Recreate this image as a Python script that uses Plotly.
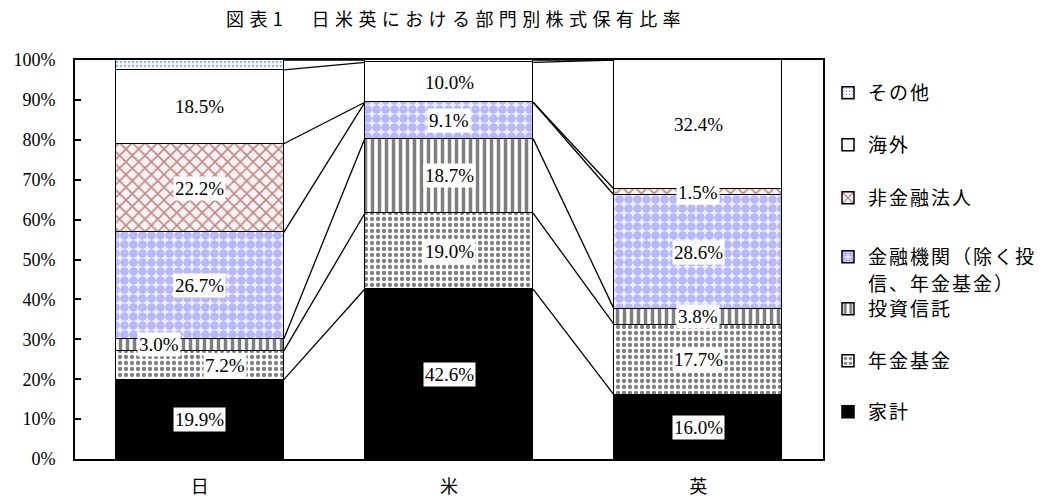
import plotly.graph_objects as go

# Countries on the category axis
countries = ["日", "米", "英"]

# Ownership share by sector (%), bottom of the stack first
household = [19.9, 42.6, 16.0]
pension_funds = [7.2, 19.0, 17.7]
investment_trusts = [3.0, 18.7, 3.8]
financial_institutions = [26.7, 9.1, 28.6]
nonfinancial_corps = [22.2, 0.0, 1.5]
foreign_investors = [18.5, 10.0, 32.4]
others = [2.5, 0.6, 0.0]

# Legend rows; the long financial-institution label wraps onto a second line
sector_labels = [
    "家計",
    "年金基金",
    "投資信託",
    "金融機関（除く投",
    "非金融法人",
    "海外",
    "その他",
]
wrapped_tail = "信、年金基金）"

y_ticks = list(range(0, 101, 10))
y_tick_text = [f"{v}%" for v in y_ticks]

series = [household, pension_funds, investment_trusts, financial_institutions,
          nonfinancial_corps, foreign_investors, others]

BAR_W = 0.675
SERIF = "Liberation Serif, Times New Roman, serif"
GOTHIC = "Noto Sans CJK JP, sans-serif"
LEGEND_SIZE = 19
W, H = 1053, 498
M_L, M_R, M_T, M_B = 75, 230, 60, 39
PLOT_W = W - M_L - M_R
PLOT_H = H - M_T - M_B


def spaced(text, px):
    return f'<span style="letter-spacing:{px}px">{text}</span>'


patterns = [
    dict(color="#000000", pattern=None),
    dict(color="#ffffff", pattern=dict(shape=".", fgcolor="#000000", bgcolor="#ffffff",
                                        size=6, solidity=0.4, fillmode="overlay")),
    dict(color="#ffffff", pattern=dict(shape="|", fgcolor="#000000", bgcolor="#ffffff",
                                        size=7, solidity=0.5, fillmode="overlay")),
    dict(color="#f0f0ff", pattern=dict(shape=".", fgcolor="#8080ee", bgcolor="#f0f0ff",
                                        size=9, solidity=0.72, fillmode="overlay")),
    dict(color="#f8f2f2", pattern=dict(shape="x", fgcolor="#8b1a1a", bgcolor="#f8f2f2",
                                        size=9, solidity=0.33, fillmode="overlay")),
    dict(color="#ffffff", pattern=None),
    dict(color="#ffffff", pattern=dict(shape=".", fgcolor="#2f6fdc", bgcolor="#ffffff",
                                        size=4, solidity=0.35, fillmode="overlay")),
]

x_pos = list(range(len(countries)))

fig = go.Figure()

legend_ids = ["legend"] + [f"legend{k}" for k in range(2, len(series) + 1)]

for k, (vals, label, sty) in enumerate(zip(series, sector_labels, patterns)):
    marker = dict(color=sty["color"], line=dict(color="#000000", width=1.5))
    if sty["pattern"] is not None:
        marker["pattern"] = sty["pattern"]
    fig.add_trace(go.Bar(
        x=x_pos, y=vals, width=BAR_W, name=spaced(label, 2), marker=marker,
        legend=legend_ids[k], hoverinfo="skip",
    ))

# Series lines joining the stack boundaries of neighbouring bars
cum = []
running = [0.0] * len(countries)
for vals in series:
    running = [r + v for r, v in zip(running, vals)]
    cum.append(list(running))

lx, ly = [], []
for tops in cum:
    for i in range(len(countries) - 1):
        lx += [x_pos[i] + BAR_W / 2, x_pos[i + 1] - BAR_W / 2, None]
        ly += [tops[i], tops[i + 1], None]
fig.add_trace(go.Scatter(x=lx, y=ly, mode="lines", line=dict(color="#000000", width=1.3),
                         showlegend=False, hoverinfo="skip", cliponaxis=False))

# Value labels (the small "その他" slices stay unlabelled)
label_shift = {(2, 0): -41, (1, 0): 25}
annotations = []
base = [0.0] * len(countries)
for k, vals in enumerate(series):
    for i, v in enumerate(vals):
        if k < len(series) - 1 and v > 0:
            annotations.append(dict(
                x=x_pos[i], y=base[i] + v / 2, xref="x", yref="y",
                text=f"{v:.1f}%", showarrow=False,
                xshift=label_shift.get((k, i), 0),
                font=dict(family=SERIF, size=19, color="#000000"),
                bgcolor="#ffffff", borderpad=1,
            ))
    base = [b + v for b, v in zip(base, vals)]

# Second line of the wrapped legend label
annotations.append(dict(
    x=(868 - M_L) / PLOT_W, y=(H - M_B - 282) / PLOT_H, xref="paper", yref="paper",
    text=spaced(wrapped_tail, 2), showarrow=False, xanchor="left", yanchor="middle",
    borderpad=0, borderwidth=0,
    font=dict(family=GOTHIC, size=LEGEND_SIZE, color="#000000"),
))

# One legend per sector so each row sits at its own height
legend_rows_px = [412, 361, 309, 257, 198, 145, 93]
layout_legends = {}
for lid, ypx in zip(legend_ids, legend_rows_px):
    layout_legends[lid] = dict(
        x=828 / W, xanchor="left", xref="container",
        y=1 - ypx / H, yanchor="middle", yref="container",
        bgcolor="rgba(0,0,0,0)", borderwidth=0,
        font=dict(family=GOTHIC, size=LEGEND_SIZE, color="#000000"),
        itemwidth=30,
    )

fig.update_layout(
    width=W, height=H,
    margin=dict(l=M_L, r=M_R, t=M_T, b=M_B, autoexpand=False),
    paper_bgcolor="#ffffff", plot_bgcolor="#ffffff",
    barmode="stack", bargap=0,
    showlegend=True,
    title=dict(
        text=spaced("図表1　日米英における部門別株式保有比率", 5.4),
        x=456 / W, xanchor="center", xref="container",
        y=1 - 20 / H, yanchor="middle", yref="container",
        font=dict(family=GOTHIC, size=18, color="#000000"),
    ),
    xaxis=dict(
        range=[-0.5, 2.5], tickvals=x_pos, ticktext=countries,
        showline=True, linecolor="#000000", linewidth=2, mirror=True,
        ticks="", showgrid=False, zeroline=False, automargin=False,
        tickfont=dict(family=GOTHIC, size=18, color="#000000"),
        ticklabelstandoff=10,
    ),
    yaxis=dict(
        range=[0, 100], tickvals=y_ticks, ticktext=y_tick_text,
        showline=True, linecolor="#000000", linewidth=2, mirror=True,
        ticks="inside", ticklen=6, tickwidth=1.5, tickcolor="#000000",
        showgrid=False, zeroline=False, automargin=False,
        tickfont=dict(family=SERIF, size=18, color="#000000"),
        ticklabelstandoff=14,
    ),
    annotations=annotations,
    **layout_legends,
)

fig.write_html("out.html")
